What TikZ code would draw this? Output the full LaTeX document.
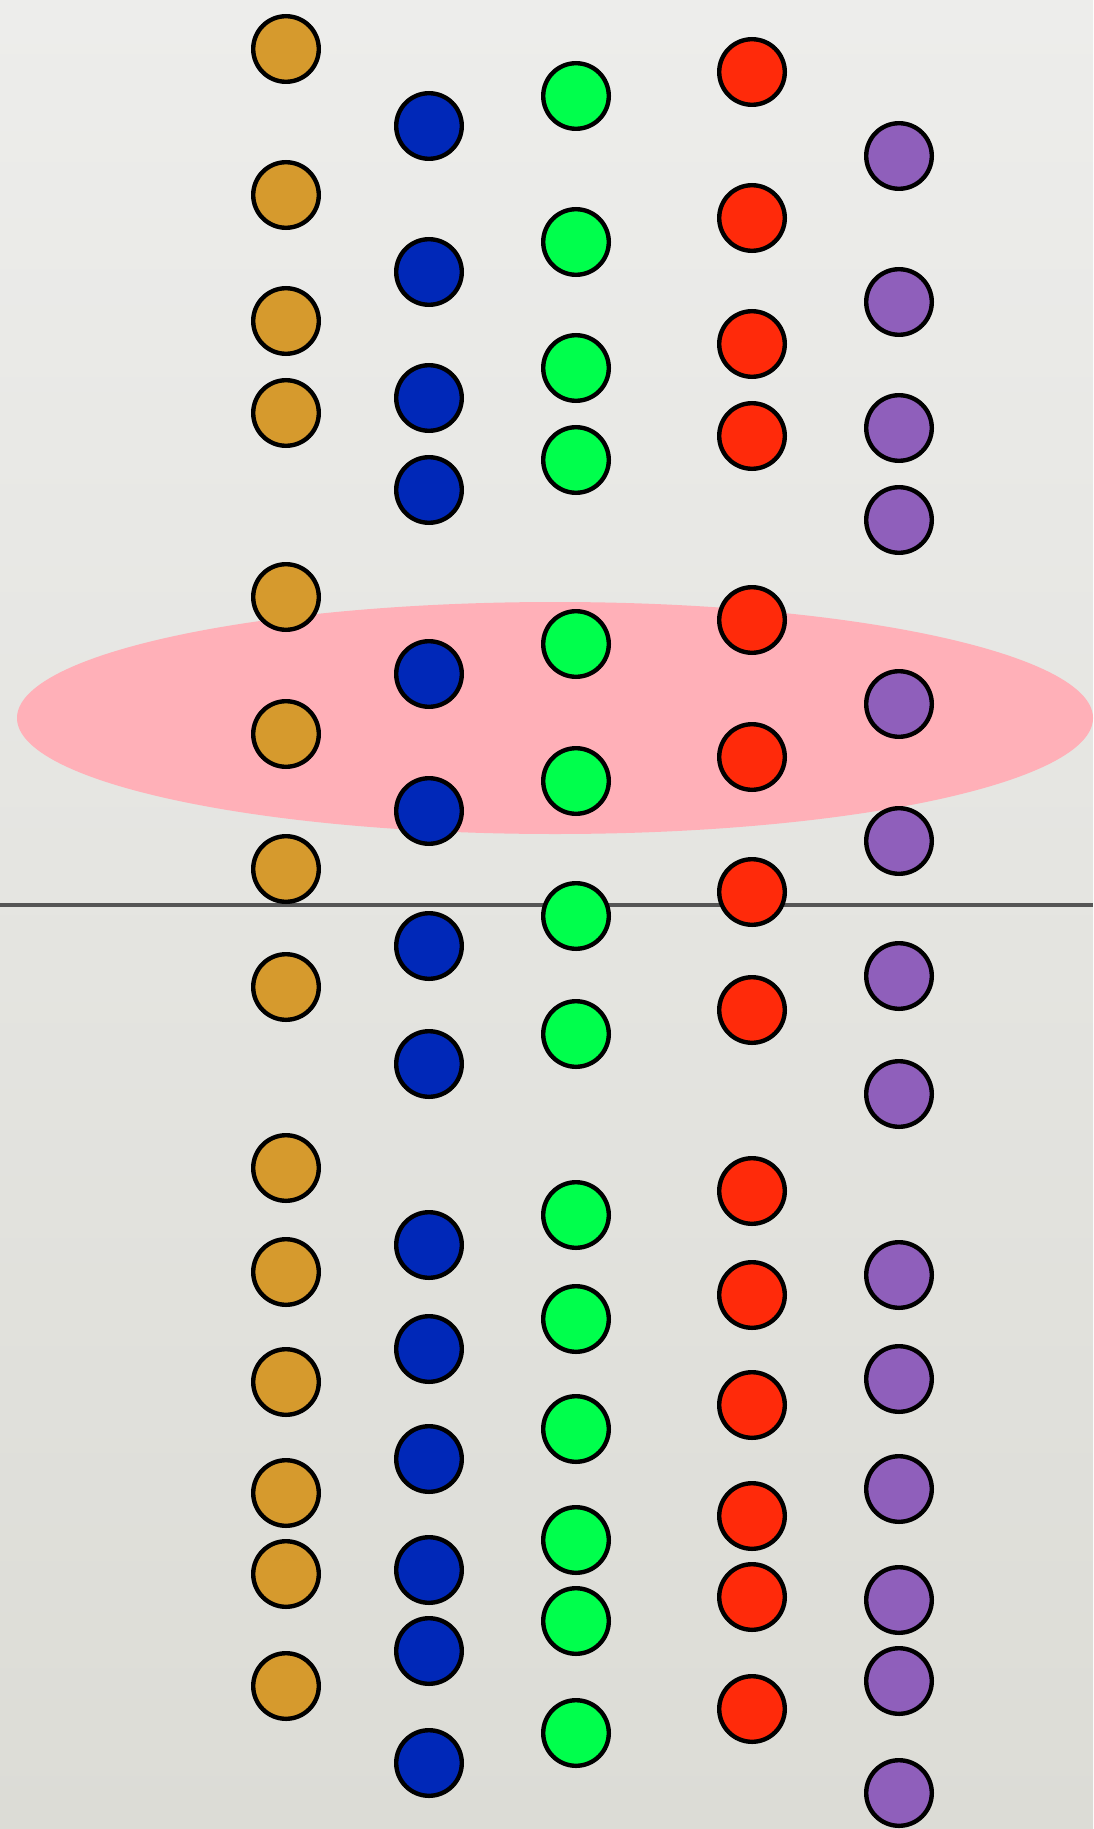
\documentclass[tikz,border=0pt]{standalone}
\definecolor{bgtop}{HTML}{EDEDEB}
\definecolor{bgbot}{HTML}{DCDCD6}
\definecolor{dotorange}{HTML}{D69A2D}
\definecolor{dotblue}{HTML}{0028B8}
\definecolor{dotgreen}{HTML}{00FF4C}
\definecolor{dotred}{HTML}{FF2A0A}
\definecolor{dotpurple}{HTML}{8F5FBB}
\definecolor{bandpink}{HTML}{FFB0B8}
\definecolor{rulegray}{HTML}{555555}
\begin{document}
\begin{tikzpicture}[x=0.5pt,y=-0.5pt,
    dot/.style={circle,draw=black,line width=2.2pt,minimum size=32.8pt,inner sep=0pt}]

    \shade[top color=bgtop,bottom color=bgbot] (0,0) rectangle (1093,1829);
    \useasboundingbox (0,0) rectangle (1093,1829);

    \fill[bandpink] (555,718) ellipse [x radius=538, y radius=116];

    \coordinate (ruleL) at (0,905);
    \coordinate (ruleR) at (1093,905);
    \draw[rulegray,line width=2.2pt] (ruleL) -- (ruleR);

    \foreach \name/\cx/\cy/\colr in {orange/286/49/dotorange,blue/429/126/dotblue,
        green/576/96/dotgreen,red/752/72/dotred,purple/899/156/dotpurple}
    \foreach \d [count=\i] in {0,146,272,364,548,685,820,938,1119,1223,1333,1444,1525,1637}
    \node[dot,fill=\colr] (\name\i) at (\cx,\cy+\d) {};

\end{tikzpicture}
\end{document}
